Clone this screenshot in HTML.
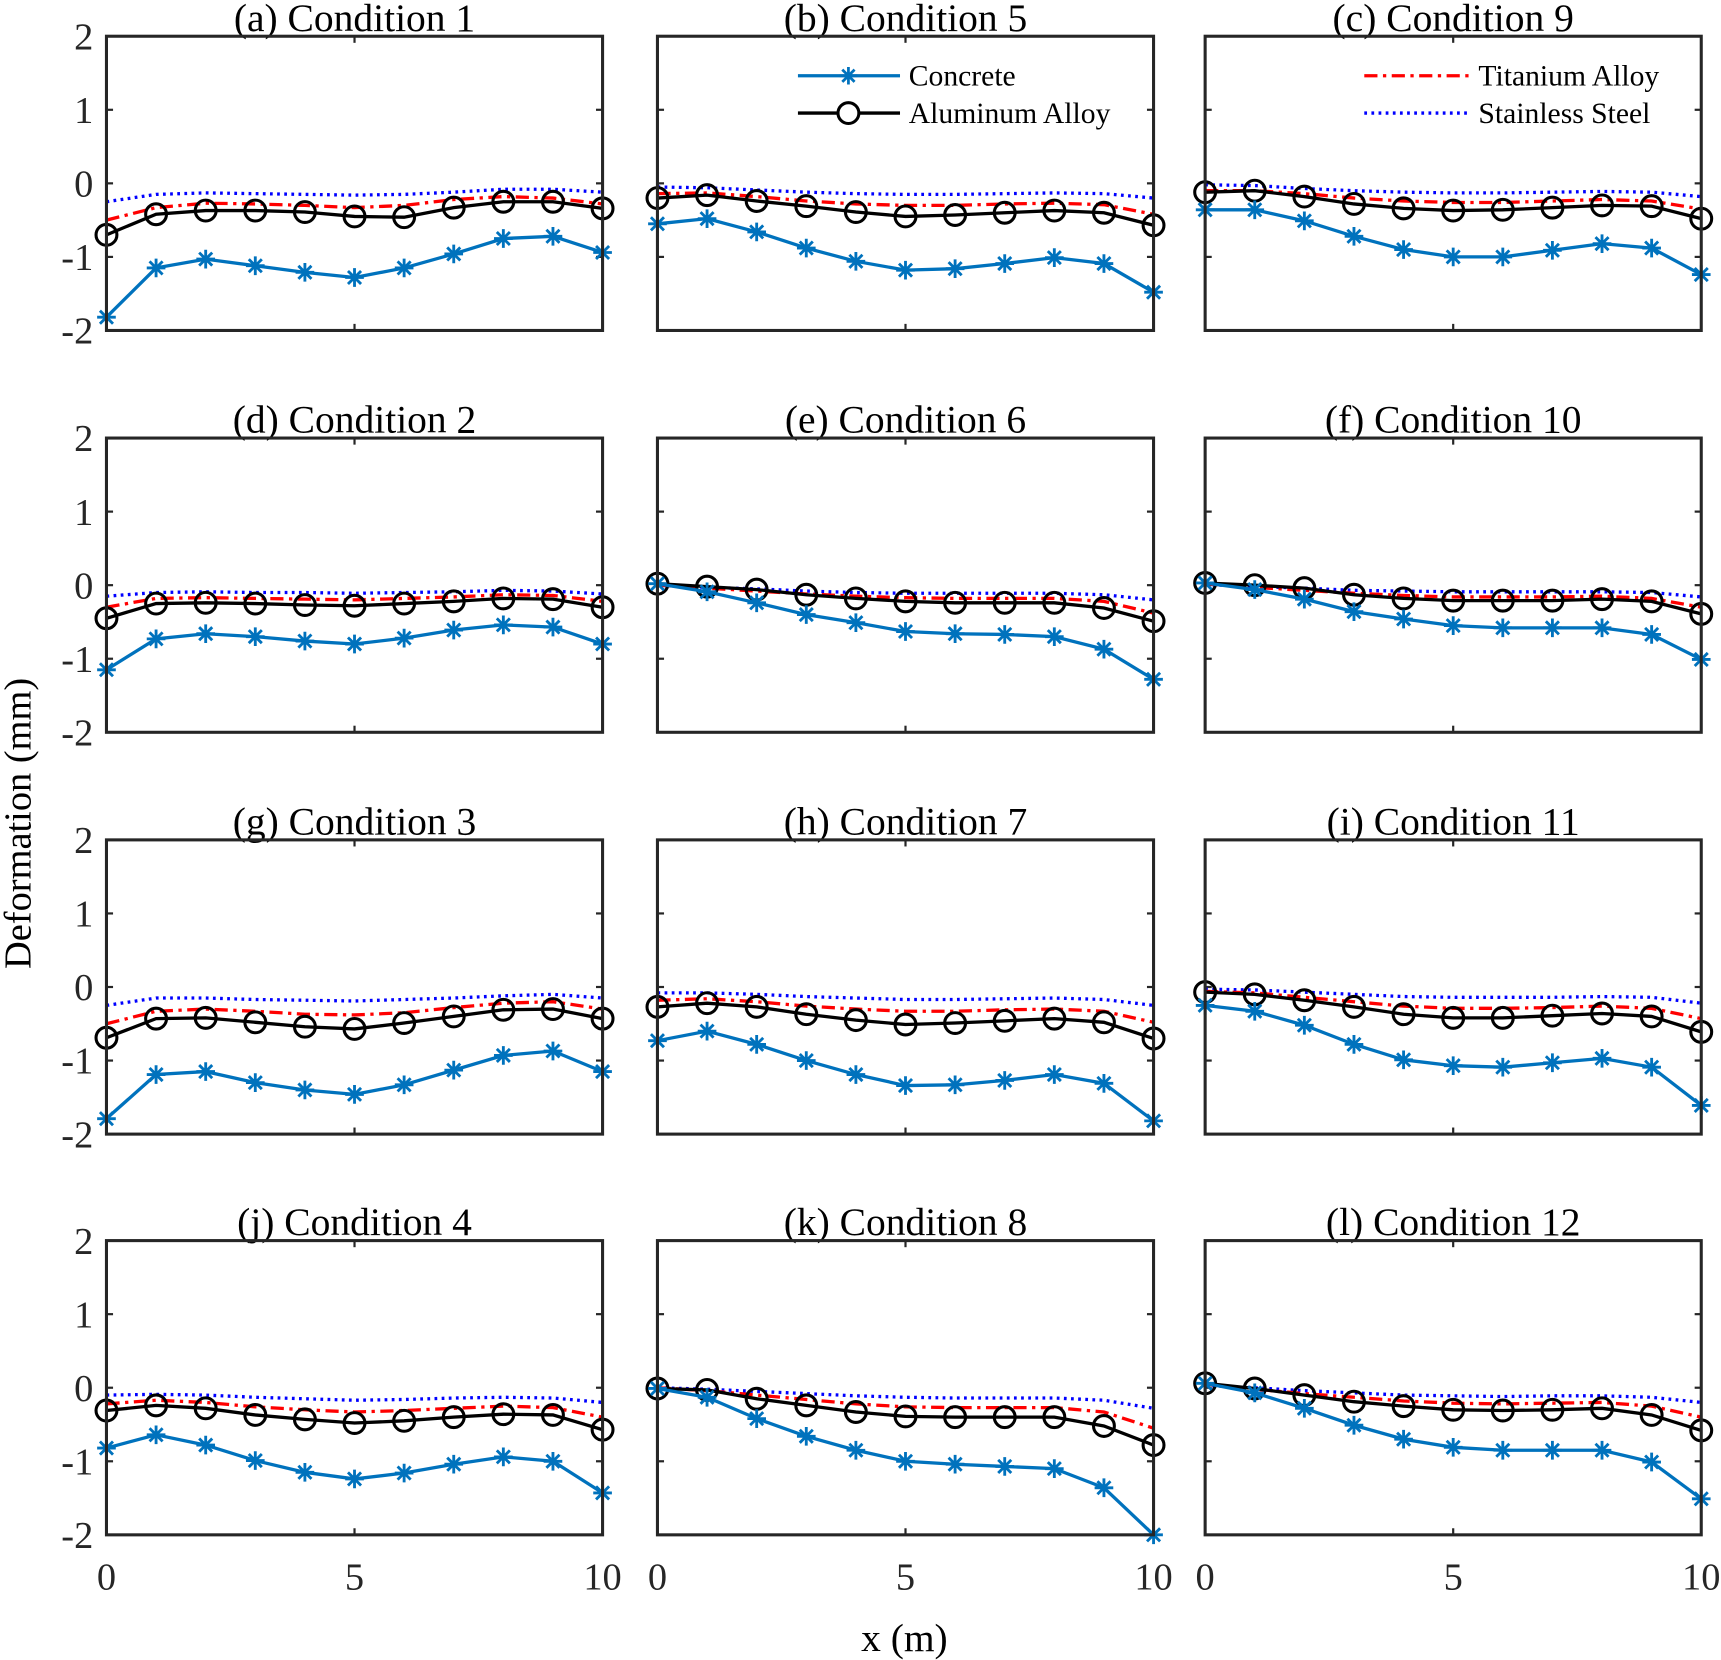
<!DOCTYPE html>
<html><head><meta charset="utf-8"><style>
html,body{margin:0;padding:0;background:#fff;}
svg{display:block;font-family:"Liberation Serif",serif;}
</style></head><body>
<svg id="chart" width="1721" height="1660" viewBox="0 0 1568 1512" preserveAspectRatio="none" xmlns="http://www.w3.org/2000/svg">
<g id="plots"></g>
<text x="0" y="0" transform="translate(28,750) rotate(-90)" text-anchor="middle" font-size="35" fill="#000">Deformation (mm)</text>
<text x="824" y="1504" text-anchor="middle" font-size="36" fill="#000">x (m)</text>
<g font-size="27">
  <line x1="727" y1="69" x2="820" y2="69" stroke="#0072BD" stroke-width="3"/>
  <path d="M765,69H781M773,61V77M767.4,63.4L778.6,74.6M767.4,74.6L778.6,63.4" stroke="#0072BD" stroke-width="2.5" fill="none"/>
  <text x="828" y="78">Concrete</text>
  <line x1="727" y1="103" x2="820" y2="103" stroke="#000" stroke-width="3"/>
  <circle cx="773" cy="103" r="9.5" fill="#fff" stroke="#000" stroke-width="2.8"/>
  <text x="828" y="112">Aluminum Alloy</text>
</g>
<g font-size="27">
  <line x1="1243" y1="69" x2="1338" y2="69" stroke="#FF0000" stroke-width="3" stroke-dasharray="12,5,3,5"/>
  <text x="1347" y="78">Titanium Alloy</text>
  <line x1="1243" y1="103" x2="1338" y2="103" stroke="#0000FF" stroke-width="3" stroke-dasharray="2.5,4"/>
  <text x="1347" y="112">Stainless Steel</text>
</g>
</svg>
<script>
const xValues=[0,1,2,3,4,5,6,7,8,9,10];
const titles=["(a) Condition 1","(b) Condition 5","(c) Condition 9","(d) Condition 2","(e) Condition 6","(f) Condition 10","(g) Condition 3","(h) Condition 7","(i) Condition 11","(j) Condition 4","(k) Condition 8","(l) Condition 12"];
const yTicks=[2,1,0,-1,-2];
const xTicks=[0,5,10];
const concrete=[
[-1.82,-1.15,-1.03,-1.12,-1.21,-1.28,-1.15,-0.96,-0.75,-0.72,-0.94],
[-0.55,-0.48,-0.66,-0.88,-1.06,-1.18,-1.16,-1.09,-1.01,-1.09,-1.48],
[-0.36,-0.36,-0.51,-0.72,-0.9,-1.0,-1.0,-0.91,-0.82,-0.88,-1.24],
[-1.15,-0.73,-0.66,-0.7,-0.76,-0.8,-0.72,-0.61,-0.54,-0.57,-0.8],
[0.02,-0.09,-0.24,-0.4,-0.51,-0.63,-0.66,-0.67,-0.7,-0.87,-1.28],
[0.03,-0.06,-0.19,-0.36,-0.46,-0.55,-0.58,-0.58,-0.58,-0.67,-1.01],
[-1.79,-1.19,-1.15,-1.3,-1.4,-1.46,-1.33,-1.13,-0.93,-0.87,-1.15],
[-0.73,-0.6,-0.78,-1.0,-1.19,-1.34,-1.33,-1.27,-1.19,-1.31,-1.82],
[-0.25,-0.33,-0.52,-0.78,-0.99,-1.07,-1.09,-1.03,-0.97,-1.09,-1.61],
[-0.82,-0.64,-0.78,-0.99,-1.15,-1.24,-1.16,-1.04,-0.94,-1.0,-1.43],
[-0.01,-0.13,-0.42,-0.66,-0.85,-1.0,-1.04,-1.07,-1.1,-1.36,-2.0],
[0.06,-0.07,-0.28,-0.51,-0.7,-0.81,-0.85,-0.85,-0.85,-1.01,-1.51]];
const aluminum=[
[-0.7,-0.42,-0.37,-0.37,-0.39,-0.45,-0.46,-0.33,-0.25,-0.25,-0.34],
[-0.2,-0.16,-0.24,-0.31,-0.39,-0.45,-0.43,-0.4,-0.37,-0.4,-0.57],
[-0.12,-0.1,-0.18,-0.28,-0.34,-0.37,-0.36,-0.33,-0.3,-0.31,-0.48],
[-0.45,-0.25,-0.24,-0.25,-0.27,-0.28,-0.25,-0.22,-0.18,-0.19,-0.3],
[0.02,-0.02,-0.06,-0.13,-0.18,-0.22,-0.24,-0.24,-0.24,-0.31,-0.49],
[0.03,0,-0.04,-0.13,-0.18,-0.21,-0.21,-0.21,-0.19,-0.22,-0.39],
[-0.69,-0.43,-0.42,-0.48,-0.54,-0.57,-0.49,-0.4,-0.31,-0.3,-0.43],
[-0.27,-0.22,-0.27,-0.37,-0.45,-0.51,-0.49,-0.46,-0.43,-0.48,-0.7],
[-0.07,-0.1,-0.18,-0.27,-0.37,-0.42,-0.42,-0.39,-0.36,-0.4,-0.61],
[-0.31,-0.24,-0.28,-0.37,-0.43,-0.48,-0.45,-0.4,-0.36,-0.37,-0.57],
[-0.01,-0.03,-0.15,-0.24,-0.33,-0.39,-0.4,-0.4,-0.4,-0.52,-0.78],
[0.06,-0.01,-0.1,-0.19,-0.25,-0.3,-0.31,-0.3,-0.28,-0.37,-0.58]];
const titanium=[
[-0.5,-0.33,-0.27,-0.28,-0.3,-0.33,-0.3,-0.22,-0.18,-0.2,-0.28],
[-0.14,-0.13,-0.18,-0.24,-0.28,-0.3,-0.3,-0.28,-0.27,-0.29,-0.42],
[-0.1,-0.1,-0.14,-0.2,-0.24,-0.26,-0.26,-0.24,-0.22,-0.24,-0.35],
[-0.3,-0.18,-0.17,-0.18,-0.19,-0.2,-0.18,-0.16,-0.13,-0.14,-0.22],
[0,-0.04,-0.08,-0.12,-0.15,-0.17,-0.18,-0.18,-0.18,-0.22,-0.38],
[0.02,-0.03,-0.07,-0.11,-0.14,-0.16,-0.16,-0.16,-0.15,-0.18,-0.3],
[-0.5,-0.33,-0.3,-0.33,-0.37,-0.38,-0.35,-0.28,-0.22,-0.2,-0.3],
[-0.18,-0.16,-0.2,-0.26,-0.3,-0.33,-0.33,-0.31,-0.3,-0.33,-0.48],
[-0.06,-0.08,-0.14,-0.2,-0.26,-0.29,-0.29,-0.28,-0.26,-0.29,-0.43],
[-0.22,-0.17,-0.2,-0.26,-0.3,-0.33,-0.31,-0.28,-0.25,-0.27,-0.4],
[0,-0.04,-0.1,-0.16,-0.22,-0.26,-0.27,-0.27,-0.27,-0.33,-0.55],
[0.05,-0.02,-0.08,-0.13,-0.18,-0.21,-0.22,-0.21,-0.2,-0.25,-0.4]];
const stainless=[
[-0.25,-0.15,-0.13,-0.14,-0.15,-0.16,-0.15,-0.12,-0.08,-0.08,-0.12],
[-0.05,-0.06,-0.09,-0.12,-0.14,-0.15,-0.15,-0.14,-0.13,-0.14,-0.2],
[-0.02,-0.03,-0.07,-0.1,-0.12,-0.13,-0.13,-0.12,-0.11,-0.12,-0.18],
[-0.15,-0.1,-0.09,-0.1,-0.1,-0.11,-0.1,-0.09,-0.07,-0.08,-0.12],
[0,-0.03,-0.05,-0.08,-0.1,-0.11,-0.11,-0.11,-0.11,-0.13,-0.2],
[0.01,-0.02,-0.04,-0.07,-0.08,-0.09,-0.09,-0.09,-0.09,-0.1,-0.16],
[-0.25,-0.15,-0.15,-0.17,-0.18,-0.19,-0.17,-0.15,-0.12,-0.1,-0.15],
[-0.08,-0.08,-0.1,-0.13,-0.15,-0.17,-0.17,-0.16,-0.15,-0.17,-0.25],
[-0.03,-0.04,-0.07,-0.1,-0.13,-0.14,-0.14,-0.14,-0.13,-0.14,-0.22],
[-0.1,-0.09,-0.1,-0.13,-0.15,-0.17,-0.16,-0.14,-0.13,-0.14,-0.2],
[0,-0.02,-0.05,-0.08,-0.11,-0.13,-0.14,-0.14,-0.14,-0.17,-0.28],
[0.03,0,-0.04,-0.07,-0.1,-0.11,-0.12,-0.11,-0.11,-0.13,-0.2]];

const NS="http://www.w3.org/2000/svg";
const colL=[97,599,1098], colW=452;
const rowT=[33,399,765,1130], rowH=268;
const root=document.getElementById('plots');
function mk(tag,attrs,parent){const e=document.createElementNS(NS,tag);for(const k in attrs)e.setAttribute(k,attrs[k]);parent.appendChild(e);return e;}
for(let p=0;p<12;p++){
  const c=p%3,r=Math.floor(p/3);
  const L=colL[c],T=rowT[r];
  const sx=v=>L+(v-0)/10*colW;
  const sy=v=>T+(2-v)/4*rowH;
  const g=mk('g',{},root);
  
  
  const t=mk('text',{x:L+colW/2,y:T-5,'text-anchor':'middle','font-size':36,fill:'#000'},g);
  
  
  t.textContent=titles[p];
  yTicks.forEach(v=>{
    mk('line',{x1:L,x2:L+6,y1:sy(v),y2:sy(v),stroke:'#262626','stroke-width':2},g);
    mk('line',{x1:L+colW,x2:L+colW-6,y1:sy(v),y2:sy(v),stroke:'#262626','stroke-width':2},g);
    if(c===0){const tl=mk('text',{x:L-12,y:sy(v)+12,'text-anchor':'end','font-size':35,fill:'#262626'},g);
      
      
      tl.textContent=String(v);}
  });
  xTicks.forEach(v=>{
    mk('line',{x1:sx(v),x2:sx(v),y1:T,y2:T+6,stroke:'#262626','stroke-width':2},g);
    mk('line',{x1:sx(v),x2:sx(v),y1:T+rowH,y2:T+rowH-6,stroke:'#262626','stroke-width':2},g);
    if(r===3){const tl=mk('text',{x:sx(v),y:T+rowH+50,'text-anchor':'middle','font-size':35,fill:'#262626'},g);
      
      
      tl.textContent=String(v);}
  });
  const pts=arr=>xValues.map((x,i)=>sx(x)+','+sy(arr[i])).join(' ');
  const ss=mk('polyline',{points:pts(stainless[p]),fill:'none',stroke:'#0000FF','stroke-width':3,'stroke-dasharray':'2.5,4'},g);
  
  
  const ti=mk('polyline',{points:pts(titanium[p]),fill:'none',stroke:'#FF0000','stroke-width':3,'stroke-dasharray':'12,5,3,5'},g);
  
  
  const al=mk('polyline',{points:pts(aluminum[p]),fill:'none',stroke:'#000','stroke-width':3},g);
  
  
  xValues.forEach((x,i)=>{
    const m=mk('circle',{cx:sx(x),cy:sy(aluminum[p][i]),r:9.5,fill:'none',stroke:'#000','stroke-width':2.8},g);
    
    
  });
  const co=mk('polyline',{points:pts(concrete[p]),fill:'none',stroke:'#0072BD','stroke-width':3},g);
  
  
  xValues.forEach((x,i)=>{
    const cx=sx(x),cy=sy(concrete[p][i]),s=8.5;
    const m=mk('path',{d:`M${cx-s},${cy}H${cx+s}M${cx},${cy-s}V${cy+s}M${cx-s*0.7},${cy-s*0.7}L${cx+s*0.7},${cy+s*0.7}M${cx-s*0.7},${cy+s*0.7}L${cx+s*0.7},${cy-s*0.7}`,stroke:'#0072BD','stroke-width':2.6,fill:'none'},g);
    
    
  });
  const fr=mk('rect',{x:L,y:T,width:colW,height:rowH,fill:'none',stroke:'#262626','stroke-width':2.8},g);
  
  
}
</script>
</body></html>
